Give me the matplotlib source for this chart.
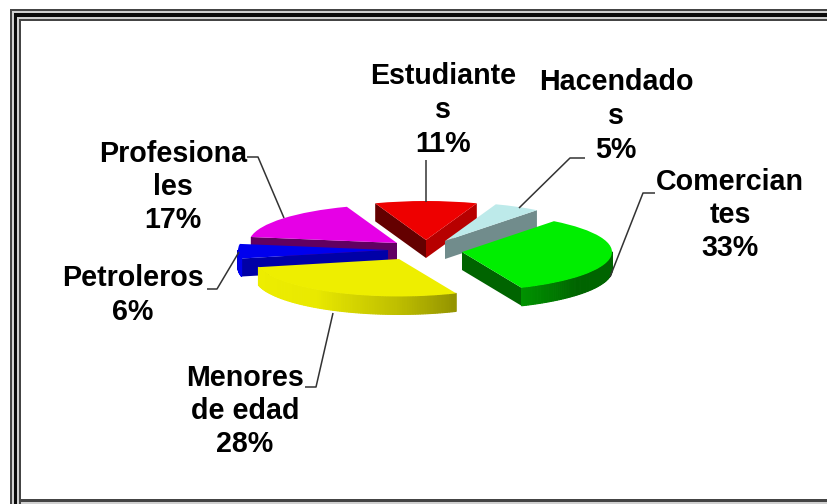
import numpy as np
import matplotlib
matplotlib.use("Agg")
import matplotlib.pyplot as plt
from matplotlib.patches import Polygon, Rectangle

labels = ["Estudiante\ns\n11%", "Hacendado\ns\n5%", "Comercian\ntes\n33%",
          "Menores\nde edad\n28%", "Petroleros\n6%", "Profesiona\nles\n17%"]
values = [11, 5, 33, 28, 6, 17]
colors = ["#ee0000", "#bdeaea", "#00ee00", "#eeee00", "#0000ee", "#e600e6"]

W, H = 828, 504
K = 0.26
R = 150
DEPTH = 18
START_NORTH = -19.8  # clockwise start, degrees east of north
apex_px = [(426, 240), (445, 241), (462, 252), (399, 259), (388, 250), (397, 243)]
radius_px = [150, 150, 150, 144, 150, 148]
right_face = [.77, .60, .70, .70, .70, .70]
label_pos = [(443, 110), (616, 116), (730, 215), (245, 411), (133, 295), (173, 187)]
leaders = [[(426, 160), (426, 202)],
           [(585, 158), (570, 158), (519, 208)],
           [(655, 193), (643, 193), (610, 277)],
           [(305, 387), (316, 387), (333, 313)],
           [(207, 289), (217, 289), (239, 252)],
           [(247, 157), (258, 157), (284, 218)]]
draw_order = [0, 1, 5, 4, 3, 2]

plt.rcParams["font.family"] = ["Liberation Sans", "DejaVu Sans"]
fig = plt.figure(figsize=(W / 100, H / 100), dpi=100, facecolor="white")
ax = fig.add_axes([0, 0, 1, 1])


def Y(py):
    return (H - py) / K


wedges, _ = ax.pie(values, colors=colors, startangle=90 - START_NORTH,
                   counterclock=False, radius=R, wedgeprops={"linewidth": 0})
ax.set_aspect("auto")
ax.set_xlim(0, W)
ax.set_ylim(0, H / K)
ax.axis("off")


def shade(col, f):
    return tuple(np.array(matplotlib.colors.to_rgb(col)) * f)


def arc_factor(north):
    return np.interp(north, [90, 130, 157, 180, 215, 262, 280],
                     [.42, .42, .62, .80, .98, 1.0, .55])


DY = DEPTH / K
for i in draw_order:
    w = wedges[i]
    cx, cy = apex_px[i][0], Y(apex_px[i][1])
    r = radius_px[i]
    w.set_center((cx, cy))
    w.set_radius(r)
    t1, t2 = np.radians(w.theta1), np.radians(w.theta2)
    base_z = 2 * draw_order.index(i) + 1
    # flat side faces along the two radii
    for sgn, t in ((-1, t1), (1, t2)):
        ex, ey = np.cos(t), np.sin(t)
        nx, ny = (-ey * sgn, ex * sgn)  # outward normal in true circle space
        if ny < 0:
            px, py = cx + r * ex, cy + r * ey
            f = .42 if nx <= 0.05 else right_face[i]
            ax.add_patch(Polygon([(cx, cy), (px, py), (px, py - DY), (cx, cy - DY)],
                                 closed=True, fc=shade(colors[i], f), ec="none",
                                 zorder=base_z))
    # curved rim, in thin strips so it can shade along the arc
    deg = np.arange(w.theta1, w.theta2 + 1.0, 1.0)
    deg = np.append(deg[deg < w.theta2], w.theta2)
    for a, b in zip(deg[:-1], deg[1:]):
        am = np.radians((a + b) / 2)
        if np.sin(am) > 0:
            continue
        xa, ya = cx + r * np.cos(np.radians(a)), cy + r * np.sin(np.radians(a))
        xb, yb = cx + r * np.cos(np.radians(b)), cy + r * np.sin(np.radians(b))
        north = (90 - (a + b) / 2) % 360
        c = shade(colors[i], arc_factor(north))
        ax.add_patch(Polygon([(xa, ya), (xb, yb), (xb, yb - DY), (xa, ya - DY)],
                             closed=True, fc=c, ec=c, lw=0.8, zorder=base_z))
    w.set_zorder(base_z + 1)

# overlay in pixel coordinates: frame, leaders, labels
ov = fig.add_axes([0, 0, 1, 1], facecolor="none")
ov.set_xlim(0, W)
ov.set_ylim(H, 0)
ov.axis("off")

leader_color = "#333333"
for pts in leaders:
    xs, ys = zip(*pts)
    ov.plot(xs, ys, color=leader_color, lw=1.1, solid_capstyle="butt")

for txt, (x, y) in zip(labels, label_pos):
    ov.text(x, y, txt, ha="center", va="center", ma="center", fontsize=20.6,
            fontweight="bold", color="black", linespacing=1.25)

left_bands = [(10, 2.0, "#444444"), (12, 2.3, "#d0d0d0"), (14.3, 3.0, "#0a0a0a"),
              (17.3, 2.0, "#d0d0d0"), (19.3, 2.2, "#444444")]
top_bands = [(9, 2.0, "#444444"), (11, 2.0, "#d0d0d0"), (13, 4.0, "#0a0a0a"),
             (17, 2.0, "#d0d0d0"), (19, 2.0, "#444444")]
for (lo, lt, lc), (to, tt, tc) in zip(left_bands, top_bands):
    ov.add_patch(Rectangle((lo, to), lt, H - to, fc=lc, ec="none", zorder=5))
    ov.add_patch(Rectangle((lo, to), W - lo, tt, fc=tc, ec="none", zorder=5))
ov.add_patch(Rectangle((19.3, 499), W - 19.3, 3, fc="#444444", ec="none", zorder=5))
ov.add_patch(Rectangle((21.5, 502), W - 21.5, 2, fc="#d0d0d0", ec="none", zorder=5))

fig.savefig("out.png", dpi=100)
